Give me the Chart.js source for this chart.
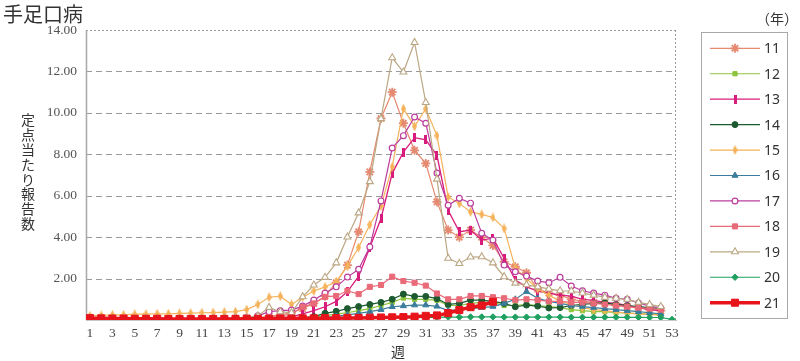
<!DOCTYPE html>
<html>
<head>
<meta charset="utf-8">
<script src="https://cdn.jsdelivr.net/npm/chart.js@4.4.0/dist/chart.umd.min.js"></script>
<style>
  html, body { margin: 0; padding: 0; background: #fff; }
  #wrap { width: 800px; height: 361px; position: relative; }
</style>
</head>
<body>
<div id="wrap"><canvas id="hfmd"></canvas></div>
<script>
// weeks 1..53
var weeks = [1,2,3,4,5,6,7,8,9,10,11,12,13,14,15,16,17,18,19,20,21,22,23,24,25,26,27,
  28,29,30,31,32,33,34,35,36,37,38,39,40,41,42,43,44,45,46,47,48,49,50,51,52,53];
var weekTicks = [1,3,5,7,9,11,13,15,17,19,21,23,25,27,29,31,33,35,37,39,41,43,45,47,49,51,53];
var yTicks = [2, 4, 6, 8, 10, 12, 14];
var years = ["11","12","13","14","15","16","17","18","19","20","21"];

var y11 = [0.10,0.08,0.07,0.06,0.06,0.05,0.05,0.05,0.05,0.06,0.06,0.07,0.08,0.09,0.10,0.12,0.18,0.25,0.35,0.55,
  0.80,1.15,1.80,2.65,4.26,7.15,9.73,11.00,9.50,8.19,7.56,5.70,4.34,4.00,4.34,4.00,3.60,2.81,2.57,2.28,
  1.49,1.30,1.20,1.00,0.90,0.85,0.80,0.70,0.65,0.60,0.50,0.45];
var y12 = [0.05,0.05,0.04,0.04,0.04,0.04,0.04,0.04,0.04,0.04,0.04,0.04,0.05,0.05,0.05,0.05,0.05,0.06,0.07,0.10,
  0.15,0.20,0.30,0.35,0.45,0.55,0.70,0.85,1.06,1.00,1.00,0.95,0.70,0.70,0.80,0.85,0.85,0.70,0.70,0.75,
  0.70,0.65,0.60,0.50,0.45,0.40,0.40,0.35,0.35,0.30,0.30,0.25];
var y13 = [0.06,0.05,0.05,0.05,0.04,0.04,0.04,0.04,0.04,0.04,0.04,0.05,0.05,0.05,0.06,0.07,0.09,0.11,0.15,0.30,
  0.45,0.64,0.90,1.37,2.10,3.50,4.90,7.08,8.10,8.80,8.70,7.95,5.30,4.26,4.34,3.86,3.95,2.98,1.93,1.60,
  1.40,1.30,1.20,1.15,1.00,0.95,0.85,0.80,0.70,0.60,0.50,0.45];
var y14 = [0.06,0.05,0.05,0.05,0.04,0.04,0.04,0.04,0.04,0.04,0.04,0.04,0.05,0.05,0.05,0.05,0.06,0.06,0.07,0.10,
  0.16,0.32,0.42,0.55,0.65,0.75,0.85,1.00,1.25,1.14,1.14,1.03,0.75,0.80,0.96,0.96,0.90,0.80,0.64,0.72,
  0.67,0.58,0.60,0.70,0.75,0.80,0.83,0.75,0.70,0.65,0.60,0.55];
var y15 = [0.20,0.22,0.25,0.25,0.28,0.28,0.30,0.30,0.32,0.33,0.35,0.36,0.38,0.40,0.50,0.75,1.10,1.15,0.75,1.10,
  1.40,1.60,1.85,2.60,3.50,4.60,5.50,7.40,10.20,9.35,10.20,8.90,5.94,5.63,5.22,5.10,4.95,4.42,2.50,2.00,
  1.50,1.20,0.90,0.75,0.60,0.50,0.45,0.38,0.33,0.30,0.27,0.22];
var y16 = [0.04,0.04,0.04,0.03,0.03,0.03,0.03,0.03,0.03,0.03,0.03,0.03,0.03,0.04,0.04,0.04,0.04,0.05,0.05,0.06,
  0.08,0.12,0.18,0.25,0.32,0.40,0.50,0.64,0.68,0.72,0.72,0.66,0.45,0.50,0.55,0.60,0.65,0.80,1.00,1.37,
  1.05,0.90,0.80,0.70,0.65,0.60,0.55,0.50,0.45,0.40,0.35,0.30];
var y17 = [0.05,0.05,0.05,0.04,0.04,0.04,0.04,0.04,0.04,0.04,0.05,0.05,0.06,0.07,0.10,0.20,0.40,0.45,0.48,0.67,
  0.96,1.30,1.60,2.07,2.45,3.53,5.75,8.30,8.90,9.80,9.50,7.10,5.54,5.88,5.64,4.19,3.86,2.65,2.33,2.12,
  1.88,1.80,2.06,1.64,1.41,1.30,1.20,1.05,1.00,0.82,0.67,0.58];
var y18 = [0.08,0.07,0.06,0.06,0.05,0.05,0.05,0.05,0.05,0.05,0.05,0.06,0.06,0.07,0.08,0.10,0.13,0.18,0.30,0.63,
  0.80,1.12,1.16,1.41,1.25,1.60,1.69,2.09,1.88,1.80,1.66,1.28,1.00,1.00,1.16,1.16,1.10,1.05,0.96,1.00,
  0.96,0.90,0.90,0.85,0.85,0.80,0.75,0.70,0.65,0.60,0.55,0.50];
var y19 = [0.08,0.07,0.06,0.06,0.05,0.05,0.05,0.05,0.05,0.06,0.06,0.07,0.08,0.10,0.12,0.20,0.61,0.40,0.35,1.12,
  1.69,2.06,2.76,4.01,5.17,6.68,9.72,12.66,11.97,13.40,10.50,6.80,2.98,2.73,3.04,3.05,2.76,2.09,1.78,1.70,
  1.60,1.50,1.41,1.40,1.30,1.20,1.10,1.05,1.00,0.85,0.75,0.65];
var y20 = [0.10,0.09,0.08,0.07,0.06,0.06,0.05,0.04,0.03,0.03,0.02,0.02,0.02,0.02,0.02,0.02,0.02,0.02,0.02,0.03,
  0.03,0.04,0.05,0.06,0.07,0.08,0.09,0.10,0.10,0.11,0.12,0.13,0.14,0.14,0.15,0.15,0.15,0.14,0.14,0.14,
  0.14,0.14,0.14,0.13,0.13,0.13,0.13,0.13,0.13,0.13,0.12,0.12,0.03];
var y21 = [0.09,0.08,0.07,0.07,0.06,0.06,0.06,0.05,0.05,0.05,0.05,0.05,0.05,0.05,0.06,0.06,0.06,0.07,0.07,0.08,
  0.08,0.09,0.09,0.10,0.10,0.11,0.12,0.13,0.14,0.16,0.20,0.22,0.33,0.48,0.62,0.70,0.88];

var seriesValues = [y11, y12, y13, y14, y15, y16, y17, y18, y19, y20, y21];

function barMarker(w, h, color) {
  var c = document.createElement("canvas");
  c.width = w; c.height = h;
  var g = c.getContext("2d");
  g.fillStyle = color;
  g.fillRect(0, 0, w, h);
  return c;
}
function diamondMarker(w, h, color) {
  var c = document.createElement("canvas");
  c.width = w; c.height = h;
  var g = c.getContext("2d");
  g.fillStyle = color;
  g.beginPath();
  g.moveTo(w / 2, 0); g.lineTo(w, h / 2); g.lineTo(w / 2, h); g.lineTo(0, h / 2);
  g.closePath();
  g.fill();
  return c;
}

var looks = [
  { color: "#e58a70", fill: "#e58a70", point: "star", r: 4.5, bw: 1.8, lw: 1.2 },
  { color: "#8cc43c", fill: "#8cc43c", point: "rect", r: 3, bw: 1, lw: 1.2 },
  { color: "#d81c7c", fill: "#d81c7c", point: barMarker(3, 9, "#d81c7c"), r: 4, bw: 0, lw: 1.3 },
  { color: "#1d5a30", fill: "#1d5a30", point: "circle", r: 3, bw: 1, lw: 1.2 },
  { color: "#f5b25a", fill: "#f5b25a", point: diamondMarker(5, 10, "#f5b25a"), r: 4, bw: 0, lw: 1.2 },
  { color: "#3b7c9c", fill: "#3b7c9c", point: "triangle", r: 3.5, bw: 1, lw: 1.2 },
  { color: "#bb3d9c", fill: "#ffffff", point: "circle", r: 2.9, bw: 1.2, lw: 1.2 },
  { color: "#e96a78", fill: "#e96a78", point: "rect", r: 3.6, bw: 1, lw: 1.2 },
  { color: "#bba784", fill: "#ffffff", point: "triangle", r: 4, bw: 1.1, lw: 1.2 },
  { color: "#1fa060", fill: "#1fa060", point: "rectRot", r: 3.2, bw: 1, lw: 1.2 },
  { color: "#e8141c", fill: "#e8141c", point: "rect", r: 5, bw: 1, lw: 3.5 }
];

var datasets = seriesValues.map(function (vals, i) {
  var lk = looks[i];
  return {
    label: years[i],
    data: vals.map(function (v, j) { return { x: weeks[j], y: v }; }),
    borderColor: lk.color,
    backgroundColor: lk.fill,
    borderWidth: lk.lw,
    pointStyle: lk.point,
    pointRadius: lk.r,
    pointBorderWidth: lk.bw,
    pointBorderColor: lk.color,
    pointBackgroundColor: lk.fill,
    tension: 0,
    order: seriesValues.length - i
  };
});

var serif = "'Liberation Serif', 'DejaVu Serif', serif";
var jp = "'Noto Sans CJK JP', 'Noto Sans', sans-serif";

// frame, grid and texts around the plot
var decor = {
  id: "decor",
  beforeDatasetsDraw: function (chart) {
    var ctx = chart.ctx, a = chart.chartArea, ys = chart.scales.y;
    ctx.save();
    ctx.lineWidth = 1;
    ctx.strokeStyle = "#9a9a9a";
    yTicks.forEach(function (t) {
      var py = Math.round(ys.getPixelForValue(t)) + 0.5;
      ctx.setLineDash(t === 14 ? [2, 2] : [6, 4]);
      ctx.beginPath(); ctx.moveTo(a.left, py); ctx.lineTo(a.right, py); ctx.stroke();
    });
    ctx.setLineDash([2, 2]);
    ctx.beginPath(); ctx.moveTo(a.right - 0.5, a.top); ctx.lineTo(a.right - 0.5, a.bottom); ctx.stroke();
    ctx.setLineDash([]);
    ctx.strokeStyle = "#a8a8a8";
    ctx.lineWidth = 1.5;
    ctx.beginPath(); ctx.moveTo(a.left + 0.5, a.top); ctx.lineTo(a.left + 0.5, a.bottom); ctx.stroke();
    ctx.restore();
  },
  afterDraw: function (chart) {
    var ctx = chart.ctx;
    ctx.save();
    ctx.fillStyle = "#333";
    ctx.font = "20px " + jp;
    ctx.textBaseline = "middle";
    ctx.textAlign = "left";
    ctx.fillText("手足口病", 3, 14);
    ctx.font = "14px " + jp;
    ctx.textAlign = "right";
    ctx.fillText("（年）", 798, 19);
    ctx.textAlign = "center";
    ctx.fillText("週", 398, 352);
    var ttl = "定点当たり報告数";
    for (var k = 0; k < ttl.length; k++) {
      ctx.fillText(ttl[k], 28, 120 + k * 14.8);
    }

    // legend
    ctx.strokeStyle = "#aaa";
    ctx.lineWidth = 1;
    ctx.strokeRect(701.5, 32.5, 86, 286);
    chart.data.datasets.forEach(function (ds, i) {
      var lk = looks[i];
      var yy = 48.3 + i * 25.44;
      ctx.strokeStyle = lk.color;
      ctx.lineWidth = lk.lw;
      ctx.beginPath(); ctx.moveTo(710, yy); ctx.lineTo(760, yy); ctx.stroke();
      ctx.fillStyle = lk.fill;
      ctx.lineWidth = lk.bw;
      Chart.helpers.drawPoint(ctx, { pointStyle: lk.point, radius: lk.r, rotation: 0, borderWidth: lk.bw }, 735, yy);
      ctx.fillStyle = "#333";
      ctx.font = "14px 'Noto Sans', sans-serif";
      ctx.textAlign = "left";
      ctx.fillText(ds.label, 764, yy + 1);
    });
    ctx.restore();
  }
};

new Chart(document.getElementById("hfmd"), {
  type: "line",
  data: { datasets: datasets },
  options: {
    responsive: true,
    maintainAspectRatio: false,
    animation: false,
    events: [],
    layout: { padding: { left: 0, right: 124, top: 30, bottom: 0 } },
    plugins: { legend: { display: false }, tooltip: { enabled: false } },
    scales: {
      x: {
        type: "linear",
        min: 0.643,
        max: 53.357,
        grid: { display: false, drawTicks: false },
        border: { display: true, color: "#c8c8c8", width: 1 },
        afterBuildTicks: function (s) { s.ticks = weekTicks.map(function (v) { return { value: v }; }); },
        afterFit: function (s) { s.height = 41; },
        ticks: {
          autoSkip: false,
          maxRotation: 0,
          padding: 5,
          color: "#444",
          font: { family: serif, size: 13.5 },
          callback: function (v) { return String(v); }
        }
      },
      y: {
        min: 0,
        max: 14,
        grid: { display: false, drawTicks: false },
        border: { display: false },
        afterBuildTicks: function (s) { s.ticks = yTicks.map(function (v) { return { value: v }; }); },
        afterFit: function (s) { s.width = 86; },
        ticks: {
          padding: 9,
          color: "#555",
          font: { family: serif, size: 13.5 },
          callback: function (v) { return v.toFixed(2); }
        }
      }
    }
  },
  plugins: [decor]
});
</script>
</body>
</html>
